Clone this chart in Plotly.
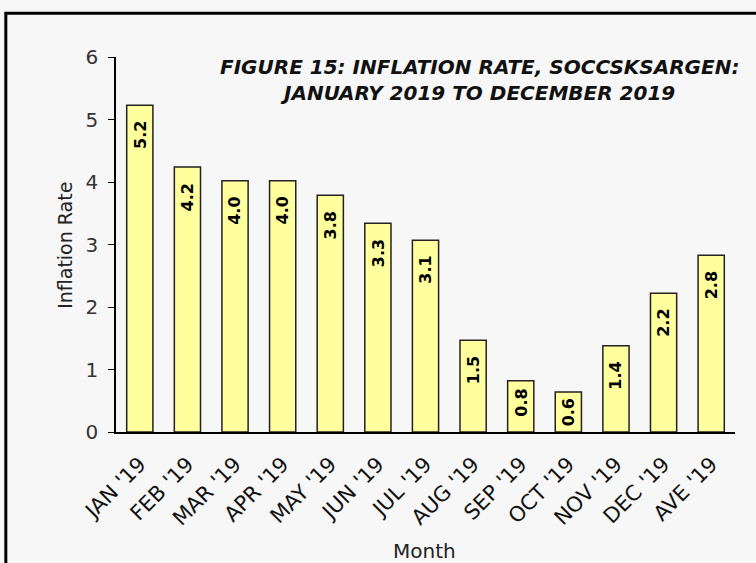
import plotly.graph_objects as go

categories = ["JAN '19", "FEB '19", "MAR '19", "APR '19", "MAY '19", "JUN '19",
              "JUL '19", "AUG '19", "SEP '19", "OCT '19", "NOV '19", "DEC '19", "AVE '19"]
rates = [5.23, 4.24, 4.02, 4.02, 3.79, 3.34, 3.07, 1.47, 0.82, 0.64, 1.38, 2.22, 2.83]
labels = ["5.2", "4.2", "4.0", "4.0", "3.8", "3.3", "3.1", "1.5", "0.8", "0.6", "1.4", "2.2", "2.8"]
y_ticks = [0, 1, 2, 3, 4, 5, 6]

FONT = "DejaVu Sans"
PX_PER_UNIT = 375 / 6  # plot height / y range, used only for label padding


def label_gap(v):
    h = v * PX_PER_UNIT
    return max(4, min(14, h - 45))


fig = go.Figure()
fig.add_trace(go.Bar(
    x=categories, y=rates,
    marker=dict(color="#FFFF9E", line=dict(color="#222222", width=1.5)),
    width=0.55, hoverinfo="x+y",
))

annotations = [
    dict(x=c, y=v, xref="x", yref="y", text="<b>%s</b>" % t, textangle=-90,
         showarrow=False, xanchor="center", yanchor="top", yshift=-label_gap(v),
         font=dict(family=FONT, size=16, color="black"))
    for c, v, t in zip(categories, rates, labels)
]
annotations += [
    dict(
        xref="paper", yref="paper", x=0.588, y=1.011, xanchor="center", yanchor="top",
        text="<b><i>FIGURE 15: INFLATION RATE, SOCCSKSARGEN:<br>JANUARY 2019 TO DECEMBER 2019</i></b>",
        showarrow=False, font=dict(family=FONT, size=20, color="#111111"),
        align="center",
    ),
    dict(
        xref="paper", yref="paper", x=0.499, y=-0.317, xanchor="center", yanchor="middle",
        text="Month", showarrow=False, font=dict(family=FONT, size=20, color="#222222"),
    ),
    dict(
        xref="paper", yref="paper", x=-0.0824, y=0.499, xanchor="center", yanchor="middle",
        text="Inflation Rate", textangle=-90, showarrow=False,
        font=dict(family=FONT, size=19, color="#222222"),
    ),
]

fig.update_layout(
    width=756, height=563,
    paper_bgcolor="#F7F7F7", plot_bgcolor="#F7F7F7",
    margin=dict(l=116, r=21, t=57, b=131),
    showlegend=False,
    font=dict(family=FONT, color="#222222"),
    xaxis=dict(
        showline=True, linecolor="black", linewidth=1.5,
        ticks="outside", ticklen=10, tickcolor="rgba(0,0,0,0)",
        tickangle=-45, tickfont=dict(size=21, color="#111111"),
    ),
    yaxis=dict(
        range=[0, 6], tickvals=y_ticks, showgrid=False, zeroline=False,
        showline=True, linecolor="black", linewidth=1.5,
        ticks="outside", ticklen=6, tickcolor="black", ticklabelstandoff=6,
        tickfont=dict(size=20, color="#333333"),
    ),
    annotations=annotations,
    shapes=[dict(
        type="rect", xref="paper", yref="paper",
        x0=-0.178, x1=1.2, y0=-0.6, y1=1.117,
        line=dict(color="black", width=3), fillcolor="rgba(0,0,0,0)", layer="above",
    )],
)

fig.write_html("out.html", config={"displayModeBar": False},
               post_script="document.body.style.margin='0';")
